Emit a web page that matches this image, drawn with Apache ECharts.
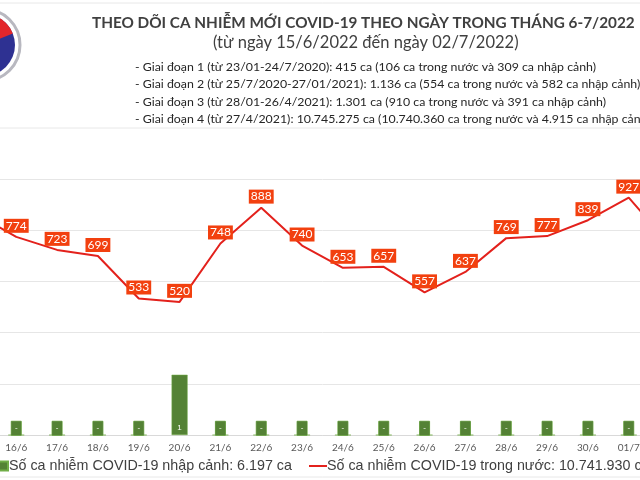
<!DOCTYPE html>
<html>
<head>
<meta charset="utf-8">
<script src="https://cdn.jsdelivr.net/npm/echarts@6/dist/echarts.min.js"></script>
<style>
  html, body { margin: 0; padding: 0; background: #fff; overflow: hidden; }
  /* ảnh gốc bị cắt hai bên: khung rộng hơn cửa sổ và dịch sang trái */
  #main { position: absolute; left: -45px; top: 0; width: 735px; height: 480px; }
</style>
</head>
<body>
<div id="main"></div>
<script>
// ngày (15/6 và 02/7 nằm ngoài khung ảnh gốc)
const days = ['15/6', '16/6', '17/6', '18/6', '19/6', '20/6', '21/6', '22/6', '23/6',
  '24/6', '25/6', '26/6', '27/6', '28/6', '29/6', '30/6', '01/7', '02/7'];
// ca trong nước
const domestic = [865, 774, 723, 699, 533, 520, 748, 888, 740, 653, 657, 557, 637, 769, 777, 839, 927, 744];
// ca nhập cảnh
const imported = [0, 0, 0, 0, 0, 1, 0, 0, 0, 0, 0, 0, 0, 0, 0, 0, 0, 0];

const mainTitle = 'THEO DÕI CA NHIỄM MỚI COVID-19 THEO NGÀY TRONG THÁNG 6-7/2022';
const subTitle = '(từ ngày 15/6/2022 đến ngày 02/7/2022)';
const phases = [
  '- Giai đoạn 1 (từ 23/01-24/7/2020): 415 ca (106 ca trong nước và 309 ca nhập cảnh)',
  '- Giai đoạn 2 (từ 25/7/2020-27/01/2021): 1.136 ca (554 ca trong nước và 582 ca nhập cảnh)',
  '- Giai đoạn 3 (từ 28/01-26/4/2021): 1.301 ca (910 ca trong nước và 391 ca nhập cảnh)',
  '- Giai đoạn 4 (từ 27/4/2021): 10.745.275 ca (10.740.360 ca trong nước và 4.915 ca nhập cảnh)'
];
const barName = 'Số ca nhiễm COVID-19 nhập cảnh: 6.197 ca';
const lineName = 'Số ca nhiễm COVID-19 trong nước: 10.741.930 ca';

let chartDom = document.getElementById('main');
let myChart = echarts.init(chartDom);
let option;

const dx = 45; // độ dịch của khung
const green = '#548235';

option = {
  animation: false,
  title: [
    {
      text: mainTitle,
      left: 92 + dx,
      top: 13,
      padding: 0,
      textStyle: { fontFamily: 'Lato', fontWeight: 'bold', fontSize: 15.3, lineHeight: 20, color: '#404040' }
    },
    {
      text: subTitle,
      left: 213 + dx,
      top: 33,
      padding: 0,
      textStyle: { fontFamily: 'Lato', fontWeight: 'normal', fontSize: 16.5, lineHeight: 20, color: '#404040' }
    },
    {
      text: phases.join('\n'),
      left: 135 + dx,
      top: 58,
      padding: 0,
      textStyle: { fontFamily: 'Lato', fontWeight: 'normal', fontSize: 12.35, lineHeight: 17.5, color: '#262626' }
    }
  ],
  graphic: [
    { type: 'line', shape: { x1: 0, y1: 3, x2: 735, y2: 3 }, style: { stroke: '#e8e8e8', lineWidth: 1 } },
    { type: 'line', shape: { x1: 0, y1: 128, x2: 735, y2: 128 }, style: { stroke: '#e8e8e8', lineWidth: 1 } },
    { type: 'line', shape: { x1: 0, y1: 477, x2: 735, y2: 477 }, style: { stroke: '#e8e8e8', lineWidth: 1 } },
    // logo bị cắt bên trái
    { type: 'circle', shape: { cx: -16 + dx, cy: 45, r: 36 }, style: { fill: 'none', stroke: '#b8b8c0', lineWidth: 3 } },
    { type: 'circle', shape: { cx: -16 + dx, cy: 45, r: 31 }, style: { fill: '#2e3192' } },
    { type: 'sector', shape: { cx: -16 + dx, cy: 45, r: 31, startAngle: -Math.PI * 0.5, endAngle: -Math.PI * 0.12 }, style: { fill: '#e3262b' } }
  ],
  legend: [
    {
      data: [barName],
      left: -2 + dx,
      top: 459,
      padding: 0,
      itemWidth: 9,
      itemHeight: 9,
      itemGap: 2,
      icon: 'rect',
      textStyle: { fontFamily: 'Liberation Sans', fontSize: 14.3, color: '#404040', padding: [0, 0, 0, -4] }
    },
    {
      data: [lineName],
      left: 309 + dx,
      top: 459,
      padding: 0,
      itemWidth: 18,
      itemHeight: 2,
      icon: 'rect',
      textStyle: { fontFamily: 'Liberation Sans', fontSize: 14.3, color: '#404040', padding: [0, 0, 0, -5] }
    }
  ],
  grid: {
    left: 0,
    right: 0,
    top: 179,
    bottom: 45
  },
  xAxis: {
    type: 'category',
    data: days,
    axisTick: { show: false },
    axisLine: { lineStyle: { color: '#d9d9d9' } },
    axisLabel: { fontFamily: 'Lato', fontSize: 10, color: '#595959', margin: 8 }
  },
  yAxis: [
    {
      type: 'value',
      min: 0,
      max: 1000,
      interval: 200,
      axisLabel: { show: false },
      axisLine: { show: false },
      axisTick: { show: false },
      splitLine: { lineStyle: { color: '#e6e6e6' } }
    },
    {
      type: 'value',
      min: 0,
      max: 4.25,
      show: false,
      splitLine: { show: false }
    }
  ],
  series: [
    {
      name: barName,
      type: 'bar',
      yAxisIndex: 1,
      barWidth: 16,
      itemStyle: { color: green, borderColor: '#70ad47', borderWidth: 0.5 },
      data: imported.map(function (v) {
        if (v > 0) {
          return {
            value: v,
            label: { show: true, position: 'insideBottom', distance: 3, formatter: '{c}', color: '#fff', fontSize: 8 }
          };
        }
        return {
          value: v,
          label: {
            show: true, position: 'insideBottom', distance: 0, formatter: '-',
            color: '#fff', fontSize: 8, width: 10, height: 14, lineHeight: 14, align: 'center',
            backgroundColor: green, borderColor: '#70ad47', borderWidth: 0.5
          }
        };
      })
    },
    {
      name: lineName,
      type: 'line',
      data: domestic,
      color: '#e3211c',
      symbol: 'circle',
      symbolSize: 0.1,
      lineStyle: { width: 2, color: '#e3211c' },
      label: {
        show: true,
        position: 'top',
        distance: 4,
        fontFamily: 'Lato',
        fontSize: 12,
        color: '#fff',
        backgroundColor: '#f2400f',
        padding: [1, 2, 1, 2]
      }
    }
  ]
};

myChart.setOption(option);
window.addEventListener('resize', () => {
  myChart.resize();
});
</script>
</body>
</html>
